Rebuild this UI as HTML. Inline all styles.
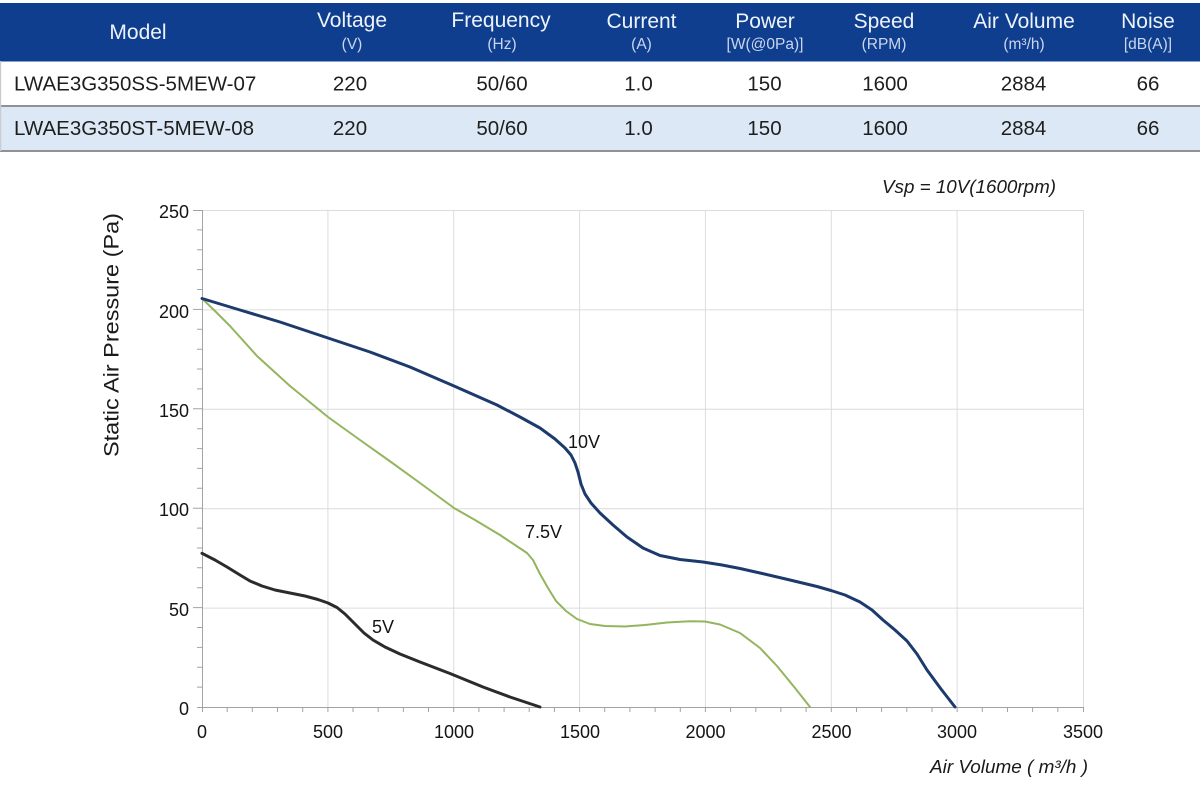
<!DOCTYPE html>
<html><head><meta charset="utf-8"><style>
html,body{margin:0;padding:0;background:#fff;}
svg{display:block;}
text{font-family:"Liberation Sans",Arial,sans-serif;}
</style></head><body>
<svg width="1200" height="809" viewBox="0 0 1200 809" xmlns="http://www.w3.org/2000/svg">
<rect width="1200" height="809" fill="#fff"/>
<!-- table -->
<rect x="0" y="3" width="1200" height="58.5" fill="#0f3e8e"/>
<rect x="0" y="61.5" width="1200" height="44" fill="#fff"/>
<rect x="0" y="105" width="1200" height="2" fill="#8e9299"/>
<rect x="0" y="107" width="1200" height="43" fill="#dde8f6"/>
<rect x="0" y="150" width="1200" height="2" fill="#8e9299"/>
<rect x="0" y="61" width="1.2" height="90" fill="#c9ccd2"/>
<g fill="#eef3fb" font-size="21" text-anchor="middle">
<text x="138" y="39">Model</text>
<text x="352" y="27">Voltage</text>
<text x="501" y="27">Frequency</text>
<text x="641.5" y="28">Current</text>
<text x="765" y="28">Power</text>
<text x="884" y="28">Speed</text>
<text x="1024" y="28">Air Volume</text>
<text x="1148" y="28">Noise</text>
</g>
<g fill="#c9d6ee" font-size="15.5" text-anchor="middle">
<text x="352" y="49">(V)</text>
<text x="502" y="49">(Hz)</text>
<text x="641.5" y="49">(A)</text>
<text x="765" y="49">[W(@0Pa)]</text>
<text x="884" y="49">(RPM)</text>
<text x="1024" y="49">(m³/h)</text>
<text x="1148" y="49">[dB(A)]</text>
</g>
<g fill="#1e1e1e" font-size="20.5" text-anchor="middle">
<text x="14" y="90.5" text-anchor="start">LWAE3G350SS-5MEW-07</text>
<text x="350" y="90.5">220</text>
<text x="502" y="90.5">50/60</text>
<text x="638.5" y="90.5">1.0</text>
<text x="764.5" y="90.5">150</text>
<text x="885" y="90.5">1600</text>
<text x="1023.5" y="90.5">2884</text>
<text x="1148" y="90.5">66</text>
<text x="14" y="135" text-anchor="start">LWAE3G350ST-5MEW-08</text>
<text x="350" y="135">220</text>
<text x="502" y="135">50/60</text>
<text x="638.5" y="135">1.0</text>
<text x="764.5" y="135">150</text>
<text x="885" y="135">1600</text>
<text x="1023.5" y="135">2884</text>
<text x="1148" y="135">66</text>
</g>
<!-- chart grid -->
<g stroke="#dcdcdc" stroke-width="1" fill="none">
<path d="M202 210.5H1083.5M202 309.9H1083.5M202 409.3H1083.5M202 508.7H1083.5M202 608.1H1083.5"/>
<path d="M327.9 210V707M453.7 210V707M579.6 210V707M705.4 210V707M831.3 210V707M957.1 210V707M1083.5 210V707"/>
</g>
<!-- axes -->
<g stroke="#a3a3a3" stroke-width="1" fill="none">
<path d="M202.5 210V712M197 707.5H1084"/>
<path d="M197 687.1h5M197 667.2h5M197 647.4h5M197 627.5h5M193 607.6h9M197 587.7h5M197 567.8h5M197 548h5M197 528.1h5M193 508.2h9M197 488.3h5M197 468.4h5M197 448.6h5M197 428.7h5M193 408.8h9M197 388.9h5M197 369h5M197 349.2h5M197 329.3h5M193 309.4h9M197 289.5h5M197 269.6h5M197 249.8h5M197 229.9h5M193 210.5h9"/>
<path d="M227.2 707v5M252.3 707v5M277.5 707v5M302.7 707v5M327.9 707v5M353 707v5M378.2 707v5M403.4 707v5M428.5 707v5M453.7 707v5M478.9 707v5M504.1 707v5M529.2 707v5M554.4 707v5M579.6 707v5M604.7 707v5M629.9 707v5M655.1 707v5M680.3 707v5M705.4 707v5M730.6 707v5M755.8 707v5M780.9 707v5M806.1 707v5M831.3 707v5M856.5 707v5M881.6 707v5M906.8 707v5M932 707v5M957.1 707v5M982.3 707v5M1007.5 707v5M1032.6 707v5M1057.8 707v5M1083.5 707v5"/>
</g>
<!-- tick labels -->
<g fill="#141414" font-size="18" text-anchor="end">
<text x="189" y="218">250</text>
<text x="189" y="318">200</text>
<text x="189" y="417">150</text>
<text x="189" y="516">100</text>
<text x="189" y="616">50</text>
<text x="189" y="715">0</text>
</g>
<g fill="#141414" font-size="18" text-anchor="middle">
<text x="202" y="738">0</text>
<text x="328" y="738">500</text>
<text x="454" y="738">1000</text>
<text x="580" y="738">1500</text>
<text x="705.5" y="738">2000</text>
<text x="831.5" y="738">2500</text>
<text x="957" y="738">3000</text>
<text x="1083" y="738">3500</text>
</g>
<text x="0" y="0" font-size="21" fill="#1a1a1a" text-anchor="middle" textLength="244" lengthAdjust="spacingAndGlyphs" transform="translate(118.5,335) rotate(-90)">Static Air Pressure  (Pa)</text>
<text x="930" y="773" font-size="18" font-style="italic" fill="#1a1a1a" textLength="158" lengthAdjust="spacingAndGlyphs">Air Volume ( m³/h )</text>
<text x="882" y="193" font-size="18" font-style="italic" fill="#1a1a1a" textLength="174" lengthAdjust="spacingAndGlyphs">Vsp = 10V(1600rpm)</text>
<!-- curves -->
<g fill="none" stroke-linejoin="round" stroke-linecap="round">
<polyline stroke="#93b55d" stroke-width="2" points="202,298.5 215,311 230,326 257,356 290,386 328,417 360,440 391,462 420,483 454,508 475,520 500,535 515,545 527,553 533,560 540,574 548,588 556,601 566,611 577,619 590,624 605,626 625,626.5 645,625 667,622.5 690,621.2 705,621.5 720,624.5 740,633 760,648 777,666 795,688 810,707"/>
<polyline stroke="#1d3a6d" stroke-width="3" points="202,298.5 240,310 280,322 328,338 370,352 410,367 454,386 497,405 520,417 540,428 555,439 565,448 571,455 575,463 578,472 581,484 585,494 591,503 600,513 613,525 627,537 643,548 660,555.5 680,559.5 703,562 722,565 740,568.5 760,573 790,580 817,586.5 831,590.5 845,595 860,602 872,610 883,620 895,630 907,641 917,654 927,670 941,689 955,707"/>
<polyline stroke="#2b2b2b" stroke-width="3" points="202,553.3 215,560 227,567 240,575 250,581 262,586 275,590 290,593 305,596 318,599.5 328,603 337,607.5 345,614 355,624 364,633 373,640 385,647 400,654 420,662 450,673.5 483,687 510,697 540,707"/>
</g>
<g fill="#141414" font-size="18">
<text x="568" y="448">10V</text>
<text x="525" y="538">7.5V</text>
<text x="372" y="633">5V</text>
</g>
</svg>
</body></html>
